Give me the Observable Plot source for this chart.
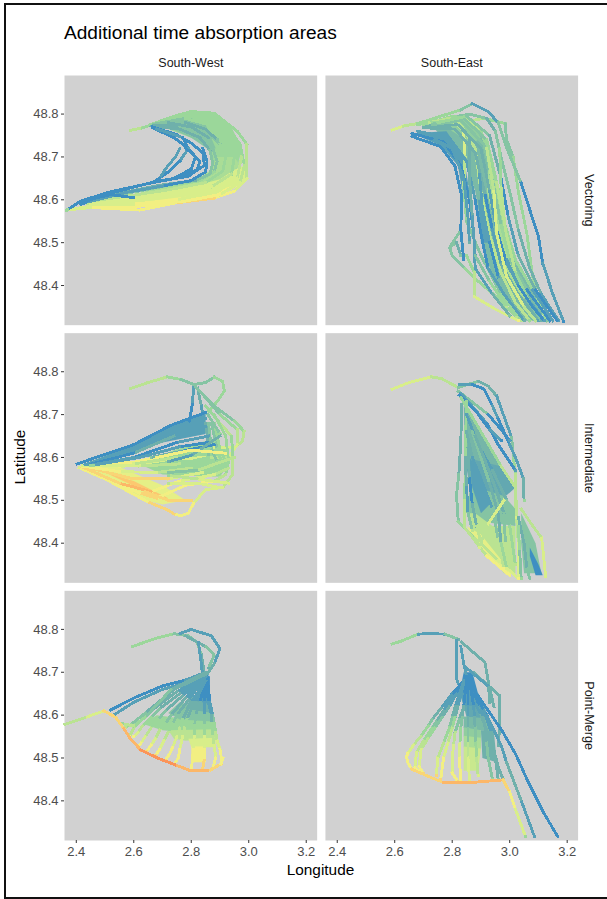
<!DOCTYPE html>
<html><head><meta charset="utf-8">
<script src="https://cdn.jsdelivr.net/npm/d3@7"></script>
<script src="https://cdn.jsdelivr.net/npm/@observablehq/plot@0.6"></script>
<style>
html,body{margin:0;padding:0;background:#fff}
#wrap{position:relative;width:607px;height:899px;overflow:hidden;font-family:"Liberation Sans",Arial,sans-serif}
#frame{position:absolute;left:4px;top:3px;right:-3px;bottom:0;border:solid #111;border-width:2px 0 2px 2px;box-sizing:border-box;pointer-events:none}
#title{position:absolute;left:64px;top:21px;font-size:19.1px;color:#000;line-height:24px}
#xt{position:absolute;left:220px;width:201px;text-align:center;top:861px;font-size:15.4px;color:#000}
#yt{position:absolute;left:20px;top:457px;font-size:15.4px;color:#000;transform:translate(-50%,-50%) rotate(-90deg);white-space:nowrap}
svg{display:block}
</style></head><body>
<div id="wrap">
<div id="chart"></div>
<div id="title">Additional time absorption areas</div>
<div id="xt">Longitude</div>
<div id="yt">Latitude</div>
<div id="frame"></div>
</div>
<script>
const areas = ["South-West","South-East"];
const modes = ["Vectoring","Intermediate","Point-Merge"];
const lonTicks = [2.4,2.6,2.8,3.0,3.2];
const latTicks = [48.4,48.5,48.6,48.7,48.8];

// dense regions: [class, [lon,lat], [lon,lat], ...]
const swVectoringBands = [
[4,[2.68,48.778],[2.80,48.803],[2.88,48.80],[2.94,48.77],[2.975,48.72],[2.96,48.67],[2.88,48.67],[2.865,48.72],[2.80,48.745],[2.70,48.77]],
[3,[2.70,48.775],[2.80,48.79],[2.85,48.775],[2.885,48.72],[2.865,48.715],[2.80,48.745]],
[4.5,[2.95,48.70],[2.97,48.68],[2.90,48.645],[2.82,48.632],[2.70,48.622],[2.58,48.606],[2.70,48.634],[2.82,48.648],[2.87,48.67],[2.89,48.70]],
[6,[2.985,48.68],[2.99,48.65],[2.94,48.622],[2.85,48.607],[2.74,48.60],[2.60,48.59],[2.43,48.585],[2.55,48.604],[2.70,48.623],[2.82,48.634],[2.90,48.648],[2.95,48.67]],
[7,[2.97,48.635],[2.90,48.608],[2.78,48.597],[2.62,48.584],[2.48,48.583],[2.60,48.592],[2.74,48.604],[2.85,48.612],[2.93,48.63]]
];
const seVectoringBands = [
[2.5,[2.72,48.78],[2.85,48.79],[2.91,48.74],[2.94,48.66],[2.96,48.58],[3.0,48.50],[3.05,48.42],[3.12,48.34],[3.1,48.318],[3.04,48.318],[2.96,48.39],[2.92,48.46],[2.90,48.54],[2.88,48.62],[2.84,48.70],[2.76,48.75]],
[3.5,[2.76,48.785],[2.86,48.79],[2.90,48.745],[2.87,48.73],[2.80,48.76]],
[1,[2.66,48.755],[2.78,48.76],[2.84,48.70],[2.86,48.62],[2.84,48.60],[2.82,48.68],[2.76,48.726]],
[4.5,[2.93,48.72],[2.96,48.62],[2.99,48.52],[3.02,48.43],[3.06,48.37],[3.03,48.37],[2.98,48.44],[2.95,48.54],[2.92,48.62]],
[1,[2.89,48.60],[2.91,48.60],[2.93,48.50],[2.90,48.50]]
];
const swIntermediateBands = [
[1,[2.85,48.705],[2.73,48.675],[2.60,48.63],[2.42,48.583],[2.55,48.60],[2.70,48.635],[2.85,48.655]],
[4,[2.86,48.64],[2.92,48.62],[2.93,48.585],[2.90,48.555],[2.70,48.56],[2.62,48.585],[2.75,48.62]],
[6.5,[2.42,48.58],[2.55,48.578],[2.70,48.535],[2.78,48.50],[2.70,48.49],[2.64,48.50]],
[8.5,[2.50,48.565],[2.60,48.545],[2.72,48.505],[2.68,48.505],[2.58,48.54]]
];
const seIntermediateBands = [
[2.3,[2.84,48.72],[2.90,48.66],[2.97,48.58],[2.96,48.575],[2.845,48.60]],
[1.5,[2.845,48.60],[2.965,48.58],[3.02,48.53],[2.97,48.50],[2.86,48.53]],
[3,[2.86,48.535],[2.98,48.51],[3.02,48.48],[3.02,48.44],[2.90,48.45],[2.855,48.47]],
[5,[2.85,48.47],[2.88,48.47],[2.94,48.44],[3.02,48.44],[3.02,48.33],[2.98,48.33],[2.90,48.40],[2.87,48.42]],
[6.5,[2.85,48.44],[2.90,48.42],[2.96,48.37],[3.01,48.33],[2.99,48.325],[2.93,48.365],[2.88,48.405]],
[1,[2.86,48.60],[2.90,48.56],[2.93,48.49],[2.90,48.47],[2.87,48.53]],
[3,[3.04,48.47],[3.09,48.40],[3.11,48.33],[3.05,48.33],[3.04,48.40]],
[0,[3.07,48.39],[3.10,48.35],[3.115,48.325],[3.09,48.325],[3.07,48.37]]
];
const swPointMergeBands = [
[4,[2.68,48.60],[2.76,48.593],[2.875,48.587],[2.88,48.565],[2.77,48.56],[2.70,48.565],[2.63,48.58]],
[3,[2.76,48.63],[2.875,48.607],[2.875,48.585],[2.76,48.59],[2.72,48.605]],
[2,[2.80,48.645],[2.87,48.625],[2.875,48.605],[2.78,48.615]],
[1,[2.825,48.665],[2.865,48.645],[2.87,48.625],[2.81,48.635]],
[0,[2.84,48.70],[2.865,48.69],[2.865,48.64],[2.835,48.645]],
[5,[2.72,48.565],[2.88,48.567],[2.885,48.545],[2.78,48.54],[2.74,48.545]],
[6,[2.79,48.545],[2.885,48.547],[2.885,48.525],[2.80,48.525]],
[7,[2.80,48.527],[2.85,48.527],[2.85,48.49],[2.80,48.49]]
];
const sePointMergeBands = [
[0,[2.84,48.70],[2.87,48.70],[2.89,48.65],[2.825,48.65]],
[1,[2.825,48.652],[2.89,48.652],[2.91,48.62],[2.84,48.62]],
[1.5,[2.84,48.622],[2.91,48.622],[2.93,48.59],[2.85,48.595]],
[2.5,[2.84,48.597],[2.93,48.592],[2.945,48.56],[2.84,48.57]],
[3.5,[2.84,48.572],[2.90,48.565],[2.90,48.545],[2.84,48.55]],
[4.5,[2.84,48.552],[2.90,48.547],[2.90,48.52],[2.84,48.525]],
[5.5,[2.84,48.527],[2.90,48.522],[2.89,48.47],[2.84,48.47]],
[2,[2.90,48.565],[2.945,48.562],[2.955,48.49],[2.905,48.50]]
];

// each track: [longitude, latitude, share-of-time class 0 (blue) to 10 (orange)]
const swVectoring = [
[[2.589,48.762,5],[2.63,48.768,4],[2.665,48.776,4]],
[[2.66,48.776,4],[2.74,48.795,4],[2.80,48.806,4],[2.88,48.802,4],[2.96,48.76,4],[2.993,48.73,5],[2.993,48.65,6],[2.95,48.62,7],[2.88,48.604,8],[2.74,48.592,7],[2.62,48.576,7],[2.45,48.582,6],[2.365,48.576,4]],
[[2.67,48.778,4],[2.76,48.797,4],[2.84,48.80,4],[2.92,48.775,4],[2.97,48.73,4],[2.985,48.68,5],[2.97,48.64,6],[2.90,48.612,7],[2.78,48.597,7],[2.62,48.585,7],[2.45,48.585,6],[2.37,48.577,4]],
[[2.67,48.778,4],[2.77,48.795,4],[2.86,48.79,4],[2.94,48.755,4],[2.975,48.70,5],[2.96,48.65,6],[2.89,48.618,6],[2.75,48.60,7],[2.60,48.59,6],[2.44,48.588,6]],
[[2.68,48.778,3],[2.78,48.79,4],[2.86,48.775,4],[2.92,48.74,4],[2.95,48.70,4],[2.94,48.66,5],[2.87,48.63,6],[2.73,48.612,6],[2.58,48.6,6],[2.44,48.592,5]],
[[2.67,48.776,3],[2.77,48.783,3],[2.84,48.765,3],[2.90,48.73,4],[2.92,48.70,4],[2.91,48.667,4],[2.85,48.64,5],[2.71,48.622,5],[2.57,48.608,5],[2.43,48.595,5]],
[[2.67,48.774,2],[2.76,48.772,3],[2.83,48.75,3],[2.875,48.72,3],[2.89,48.69,3],[2.88,48.665,4],[2.83,48.645,4],[2.70,48.631,3],[2.55,48.612,3],[2.43,48.597,3]],
[[2.66,48.772,2],[2.76,48.765,2],[2.83,48.745,2],[2.865,48.715,3],[2.875,48.685,3],[2.865,48.66,3],[2.815,48.645,2],[2.69,48.634,2],[2.55,48.615,2],[2.42,48.594,3]],
[[2.665,48.770,0],[2.75,48.752,0],[2.805,48.73,0],[2.842,48.708,0],[2.845,48.68,0],[2.79,48.655,0],[2.68,48.642,0],[2.52,48.619,0],[2.415,48.597,0],[2.37,48.577,4]],
[[2.665,48.768,0],[2.74,48.745,0],[2.79,48.72,0],[2.815,48.70,0],[2.80,48.672,0],[2.74,48.65,0],[2.66,48.64,0],[2.50,48.612,0],[2.42,48.59,0]],
[[2.68,48.765,1],[2.77,48.745,0],[2.79,48.72,1],[2.76,48.69,0],[2.72,48.665,0],[2.67,48.642,0]],
[[2.78,48.72,0],[2.80,48.71,0],[2.83,48.69,0],[2.82,48.67,0],[2.78,48.66,0],[2.73,48.648,0]],
[[2.76,48.72,1],[2.745,48.70,1],[2.71,48.672,1],[2.69,48.65,0]],
[[2.84,48.72,0],[2.855,48.69,0],[2.85,48.665,0],[2.80,48.645,0],[2.70,48.632,1],[2.58,48.618,1],[2.44,48.595,1]],
[[2.60,48.605,0],[2.52,48.612,0],[2.46,48.603,0],[2.415,48.59,0]],
[[2.78,48.78,2],[2.85,48.765,2],[2.89,48.74,3]],
[[2.72,48.78,2],[2.80,48.77,2],[2.86,48.745,2]]
];

const seVectoring = [
[[2.591,48.763,6],[2.63,48.772,5],[2.68,48.778,4]],
[[2.87,48.785,5],[2.91,48.79,4],[2.984,48.778,3],[2.989,48.74,3],[3.012,48.70,4],[3.03,48.62,4],[3.06,48.52,4],[3.08,48.42,4],[3.10,48.36,4],[3.13,48.318,3]],
[[2.68,48.778,4],[2.76,48.795,4],[2.83,48.81,3],[2.87,48.824,1],[2.925,48.806,1],[2.96,48.78,3],[2.99,48.72,3],[3.04,48.639,0],[3.10,48.514,0],[3.115,48.452,1],[3.15,48.38,1],[3.187,48.317,0]],
[[2.68,48.775,4],[2.78,48.79,3],[2.86,48.80,3],[2.92,48.79,2],[2.95,48.76,3],[2.97,48.70,3],[3.0,48.62,3],[3.03,48.53,2],[3.07,48.44,2],[3.11,48.38,1],[3.17,48.318,1]],
[[2.70,48.775,4],[2.80,48.795,4],[2.85,48.79,5],[2.90,48.76,4],[2.94,48.68,4],[2.97,48.60,4],[2.98,48.52,4],[3.02,48.43,5],[3.06,48.37,4],[3.12,48.318,3]],
[[2.72,48.78,5],[2.79,48.79,5],[2.83,48.775,5],[2.88,48.72,5],[2.90,48.62,5],[2.93,48.52,5],[2.97,48.43,5],[3.02,48.36,5],[3.07,48.318,4]],
[[2.73,48.78,4],[2.80,48.785,5],[2.84,48.76,6],[2.845,48.70,5],[2.84,48.63,4],[2.85,48.55,3],[2.90,48.47,3],[2.97,48.38,4],[3.04,48.318,5]],
[[2.792,48.487,3],[2.80,48.47,3],[2.845,48.44,4],[2.885,48.413,4],[2.96,48.37,4],[3.025,48.325,5]],
[[2.827,48.526,3],[2.792,48.49,3],[2.815,48.50,2],[2.83,48.47,3]],
[[2.85,48.47,4],[2.877,48.43,5],[2.877,48.374,6],[2.95,48.345,6],[3.03,48.318,7]],
[[2.66,48.748,0],[2.76,48.724,0],[2.81,48.678,0],[2.833,48.608,0],[2.83,48.53,0],[2.84,48.46,0]],
[[2.66,48.755,0],[2.77,48.735,0],[2.83,48.68,0],[2.86,48.60,0],[2.875,48.52,1],[2.88,48.44,1],[2.94,48.38,2],[3.0,48.33,3]],
[[2.68,48.76,1],[2.79,48.745,1],[2.85,48.69,1],[2.88,48.60,0],[2.90,48.52,0],[2.925,48.44,1],[2.98,48.38,1],[3.05,48.318,2]],
[[2.70,48.768,2],[2.81,48.765,2],[2.88,48.71,2],[2.915,48.61,0],[2.94,48.53,1],[2.97,48.45,2],[3.03,48.38,2],[3.10,48.318,1]],
[[2.71,48.772,2],[2.82,48.775,2],[2.90,48.72,2],[2.93,48.62,1],[2.955,48.53,0],[2.99,48.45,1],[3.05,48.38,1],[3.12,48.318,0]],
[[2.73,48.775,3],[2.83,48.785,3],[2.91,48.73,3],[2.945,48.63,3],[2.97,48.54,4],[3.0,48.46,3],[3.06,48.39,0],[3.14,48.318,0]],
[[2.74,48.778,3],[2.84,48.79,3],[2.92,48.74,4],[2.955,48.64,5],[2.98,48.55,4],[3.02,48.46,4],[3.08,48.39,1],[3.15,48.318,1]],
[[2.75,48.78,4],[2.85,48.795,3],[2.93,48.75,2],[2.97,48.65,0],[2.995,48.56,1],[3.03,48.47,2],[3.09,48.39,0],[3.165,48.318,0]],
[[2.86,48.74,2],[2.86,48.65,2],[2.87,48.56,1],[2.88,48.47,3],[2.93,48.41,4],[2.99,48.35,5]],
[[2.92,48.72,5],[2.945,48.62,6],[2.955,48.52,6],[2.99,48.42,6],[3.05,48.35,5],[3.09,48.318,5]],
[[2.965,48.72,4],[2.97,48.63,5],[2.985,48.53,5],[3.02,48.43,4],[3.07,48.36,3],[3.11,48.318,2]],
[[2.74,48.74,1],[2.80,48.72,1],[2.84,48.65,1],[2.855,48.56,1],[2.86,48.50,2]],
[[2.895,48.66,1],[2.905,48.58,1],[2.93,48.50,0],[2.96,48.42,1]],
[[2.99,48.46,1],[3.03,48.40,0],[3.08,48.35,0],[3.12,48.318,1]]
];

const swIntermediate = [
[[2.589,48.761,5],[2.65,48.775,5],[2.717,48.788,4],[2.764,48.782,3],[2.81,48.77,3]],
[[2.81,48.77,3],[2.85,48.775,3],[2.88,48.787,4],[2.909,48.778,4],[2.915,48.755,4],[2.891,48.731,4],[2.862,48.708,4]],
[[2.808,48.763,1],[2.804,48.724,0],[2.793,48.685,0]],
[[2.822,48.762,2],[2.835,48.72,1],[2.842,48.695,1]],
[[2.815,48.765,3],[2.88,48.72,3],[2.95,48.685,4],[2.984,48.661,5],[2.978,48.638,5],[2.949,48.622,6],[2.85,48.625,7],[2.717,48.605,7],[2.60,48.589,7],[2.42,48.58,6]],
[[2.83,48.755,3],[2.90,48.70,4],[2.96,48.665,5],[2.96,48.63,6],[2.93,48.60,5],[2.85,48.60,6],[2.72,48.595,6],[2.55,48.578,7]],
[[2.85,48.72,4],[2.90,48.68,5],[2.94,48.65,4],[2.945,48.60,5],[2.944,48.56,5],[2.91,48.53,6],[2.85,48.525,6],[2.808,48.493,7],[2.79,48.47,7],[2.764,48.464,7],[2.74,48.468,8],[2.717,48.478,8],[2.647,48.497,7],[2.50,48.55,7],[2.41,48.576,6]],
[[2.88,48.70,4],[2.92,48.65,4],[2.93,48.59,4],[2.92,48.56,5],[2.88,48.545,7],[2.78,48.535,7],[2.68,48.505,8],[2.62,48.517,7],[2.42,48.575,7]],
[[2.88,48.68,4],[2.90,48.62,4],[2.93,48.575,5],[2.88,48.56,6],[2.76,48.545,7],[2.66,48.52,9],[2.55,48.54,8],[2.42,48.578,7]],
[[2.87,48.68,3],[2.89,48.62,4],[2.91,48.58,4],[2.84,48.565,6],[2.72,48.55,8],[2.60,48.55,8],[2.42,48.58,7]],
[[2.86,48.68,3],[2.87,48.62,3],[2.89,48.59,4],[2.80,48.575,5],[2.68,48.565,6],[2.55,48.567,7],[2.42,48.58,7]],
[[2.85,48.68,2],[2.86,48.63,3],[2.86,48.60,4],[2.76,48.585,5],[2.62,48.58,6],[2.42,48.581,6]],
[[2.858,48.70,3],[2.90,48.655,4],[2.85,48.61,4],[2.75,48.60,5],[2.60,48.585,6]],
[[2.85,48.705,0],[2.729,48.675,0],[2.60,48.63,0],[2.403,48.585,0]],
[[2.85,48.69,1],[2.73,48.66,1],[2.60,48.62,1],[2.43,48.583,1]],
[[2.85,48.672,1],[2.74,48.65,2],[2.60,48.61,0],[2.44,48.583,1]],
[[2.86,48.65,1],[2.75,48.635,0],[2.60,48.60,1],[2.45,48.582,4]],
[[2.86,48.635,0],[2.76,48.625,1],[2.62,48.60,1],[2.46,48.582,4]],
[[2.88,48.63,0],[2.77,48.615,2],[2.66,48.60,3]],
[[2.90,48.65,2],[2.80,48.605,1],[2.72,48.59,2]],
[[2.95,48.60,5],[2.82,48.57,3],[2.72,48.565,3]],
[[2.93,48.54,6],[2.82,48.55,5],[2.72,48.558,4]],
[[2.90,48.53,6],[2.82,48.54,6],[2.72,48.54,5]],
[[2.80,48.50,8],[2.72,48.50,8],[2.64,48.52,8]],
[[2.92,48.61,7],[2.80,48.617,7],[2.68,48.60,7]]
];

const seIntermediate = [
[[2.591,48.759,6],[2.65,48.775,6],[2.728,48.788,5],[2.763,48.784,5],[2.821,48.763,4]],
[[2.821,48.763,3],[2.891,48.778,2],[2.926,48.766,2],[2.955,48.743,1],[2.978,48.70,1],[3.007,48.646,3],[3.013,48.60,4],[3.02,48.56,5],[3.02,48.50,5],[3.03,48.40,6],[3.03,48.318,6]],
[[2.825,48.77,1],[2.87,48.77,0],[2.91,48.76,0],[2.94,48.72,1],[2.96,48.69,0],[3.0,48.63,1],[3.02,48.60,1],[3.047,48.552,2],[3.05,48.50,4]],
[[2.82,48.755,3],[2.926,48.70,0],[2.97,48.665,0],[3.0,48.64,1]],
[[2.83,48.75,1],[2.92,48.68,0],[2.96,48.63,0],[3.02,48.57,1]],
[[2.825,48.745,0],[2.88,48.71,0],[2.93,48.665,1],[2.97,48.64,0]],
[[2.833,48.724,2],[2.83,48.638,2],[2.823,48.56,3],[2.815,48.513,3],[2.821,48.451,4],[2.879,48.412,5],[2.96,48.36,6],[3.03,48.318,7]],
[[2.85,48.73,4],[2.845,48.60,4],[2.844,48.50,5],[2.844,48.436,5],[2.92,48.37,7],[3.0,48.325,7]],
[[2.83,48.74,4],[2.90,48.66,4],[2.97,48.58,5],[3.02,48.53,5],[3.025,48.46,6]],
[[2.85,48.70,1],[2.89,48.63,1],[2.94,48.57,2],[2.99,48.50,3],[3.0,48.44,4],[3.02,48.35,5]],
[[2.85,48.66,2],[2.87,48.60,1],[2.90,48.55,1],[2.94,48.48,3],[2.96,48.41,5],[2.98,48.34,7]],
[[2.855,48.62,2],[2.86,48.55,0],[2.87,48.49,2],[2.885,48.44,5],[2.90,48.40,6]],
[[2.845,48.60,2],[2.85,48.53,1],[2.855,48.47,3],[2.87,48.43,5]],
[[2.87,48.66,3],[2.90,48.60,3],[2.93,48.54,2],[2.96,48.47,2],[2.97,48.40,4],[2.99,48.34,6]],
[[2.88,48.65,2],[2.91,48.60,2],[2.95,48.53,2],[2.98,48.47,3],[2.985,48.40,5]],
[[2.98,48.50,6],[2.92,48.44,5],[2.895,48.39,6]],
[[3.04,48.48,5],[3.07,48.45,5],[3.111,48.412,6],[3.118,48.37,6],[3.125,48.322,6]],
[[3.03,48.46,2],[3.05,48.40,2],[3.06,48.34,3],[3.07,48.318,3]],
[[3.03,48.44,4],[3.035,48.38,3],[3.04,48.318,4]]
];

const swPointMerge = [
[[2.595,48.76,4],[2.68,48.78,4],[2.74,48.79,3],[2.79,48.785,3],[2.82,48.77,3],[2.835,48.74,2],[2.845,48.70,0]],
[[2.76,48.79,1],[2.80,48.80,1],[2.87,48.785,1],[2.90,48.755,1],[2.88,48.72,2],[2.85,48.69,1]],
[[2.78,48.785,2],[2.85,48.76,3],[2.88,48.74,3],[2.86,48.71,2]],
[[2.825,48.77,1],[2.835,48.72,1],[2.84,48.69,0]],
[[2.52,48.612,0],[2.60,48.64,0],[2.70,48.668,0],[2.78,48.682,1],[2.85,48.70,2]],
[[2.53,48.60,1],[2.60,48.63,1],[2.70,48.66,1],[2.78,48.675,2],[2.85,48.70,2]],
[[2.855,48.69,0],[2.86,48.66,0],[2.865,48.63,1],[2.875,48.60,3],[2.88,48.58,4],[2.885,48.56,5],[2.89,48.54,6],[2.90,48.52,7],[2.905,48.50,7]],
[[2.85,48.69,0],[2.855,48.66,0],[2.86,48.63,1],[2.87,48.60,2],[2.872,48.58,4],[2.875,48.55,5],[2.88,48.53,6],[2.885,48.50,7],[2.875,48.475,8]],
[[2.85,48.68,0],[2.845,48.63,1],[2.845,48.60,3],[2.845,48.575,4],[2.845,48.55,6],[2.845,48.52,7],[2.845,48.495,8],[2.84,48.475,8]],
[[2.85,48.68,0],[2.83,48.63,2],[2.815,48.60,3],[2.812,48.575,4],[2.81,48.55,6],[2.807,48.52,7],[2.805,48.50,7],[2.80,48.472,8]],
[[2.85,48.68,1],[2.81,48.63,2],[2.785,48.59,4],[2.777,48.57,5],[2.77,48.55,6],[2.76,48.52,7],[2.755,48.50,7],[2.74,48.485,8]],
[[2.85,48.68,1],[2.80,48.63,2],[2.77,48.59,4],[2.76,48.57,5],[2.75,48.55,6],[2.735,48.525,7],[2.725,48.51,7],[2.71,48.495,8]],
[[2.85,48.69,1],[2.79,48.635,2],[2.75,48.60,3],[2.735,48.58,4],[2.72,48.56,5],[2.705,48.54,6],[2.69,48.52,7],[2.675,48.505,8]],
[[2.85,48.69,1],[2.78,48.64,2],[2.73,48.60,3],[2.71,48.58,4],[2.69,48.565,5],[2.675,48.545,6],[2.66,48.53,7],[2.645,48.515,8]],
[[2.85,48.69,1],[2.77,48.645,2],[2.71,48.61,3],[2.685,48.59,4],[2.66,48.57,5],[2.64,48.55,6],[2.625,48.535,7],[2.615,48.525,8]],
[[2.85,48.69,1],[2.76,48.65,2],[2.69,48.615,3],[2.66,48.595,4],[2.63,48.575,5],[2.615,48.56,6],[2.60,48.55,7]],
[[2.85,48.69,1],[2.75,48.655,2],[2.66,48.61,3],[2.63,48.59,4],[2.60,48.57,5],[2.585,48.55,7]],
[[2.85,48.695,2],[2.74,48.66,2],[2.64,48.605,3],[2.59,48.578,4],[2.57,48.572,5]],
[[2.82,48.69,2],[2.73,48.66,3],[2.64,48.595,4],[2.60,48.575,5],[2.56,48.58,4]],
[[2.36,48.578,5],[2.438,48.596,6],[2.496,48.61,8],[2.537,48.595,8],[2.566,48.568,9],[2.589,48.544,9],[2.624,48.519,10],[2.682,48.50,10],[2.752,48.482,9],[2.798,48.47,9],[2.868,48.472,8],[2.903,48.486,7],[2.91,48.50,7]]
];

const sePointMerge = [
[[2.591,48.766,4],[2.62,48.772,4],[2.682,48.789,1],[2.72,48.79,1],[2.775,48.789,3],[2.821,48.777,2]],
[[2.815,48.775,1],[2.815,48.73,1],[2.815,48.684,1],[2.83,48.66,1]],
[[2.83,48.76,1],[2.84,48.72,1],[2.85,48.69,0]],
[[2.833,48.77,2],[2.914,48.723,2],[2.926,48.677,2],[2.93,48.63,2]],
[[2.873,48.70,2],[2.966,48.645,2],[2.966,48.575,2],[2.96,48.53,2]],
[[2.85,48.71,1],[2.93,48.665,2],[2.945,48.62,2]],
[[2.86,48.67,0],[2.89,48.645,0],[2.972,48.565,0],[3.02,48.51,0],[3.065,48.443,0],[3.12,48.37,0],[3.167,48.317,0]],
[[2.85,48.67,0],[2.92,48.60,1],[2.97,48.53,1],[2.989,48.49,2],[3.042,48.397,1],[3.086,48.317,1]],
[[2.85,48.67,1],[2.90,48.60,2],[2.94,48.53,2],[2.96,48.48,2],[2.978,48.449,4]],
[[2.84,48.68,0],[2.80,48.65,1],[2.76,48.615,2],[2.73,48.59,3],[2.717,48.575,4],[2.69,48.55,5],[2.665,48.53,6],[2.645,48.51,7],[2.641,48.50,7]],
[[2.84,48.68,0],[2.80,48.645,1],[2.77,48.61,2],[2.745,48.585,3],[2.73,48.57,4],[2.70,48.54,5],[2.676,48.513,6],[2.67,48.478,7],[2.69,48.465,8]],
[[2.84,48.68,0],[2.815,48.65,1],[2.79,48.62,2],[2.765,48.595,3],[2.74,48.57,4],[2.715,48.545,5],[2.692,48.52,6],[2.685,48.48,7],[2.70,48.463,8]],
[[2.84,48.68,1],[2.825,48.65,1],[2.81,48.62,2],[2.80,48.595,3],[2.79,48.57,4],[2.77,48.535,5],[2.75,48.50,6],[2.745,48.46,8]],
[[2.845,48.68,1],[2.83,48.65,1],[2.82,48.62,2],[2.81,48.595,4],[2.80,48.57,5],[2.785,48.535,6],[2.77,48.50,7],[2.76,48.45,8]],
[[2.85,48.68,0],[2.84,48.62,2],[2.825,48.59,3],[2.81,48.56,5],[2.805,48.53,6],[2.80,48.50,6],[2.80,48.465,7],[2.82,48.445,8]],
[[2.85,48.68,0],[2.84,48.62,2],[2.835,48.595,3],[2.83,48.57,4],[2.827,48.535,6],[2.825,48.50,7],[2.83,48.445,7]],
[[2.855,48.68,0],[2.855,48.62,1],[2.855,48.595,2],[2.855,48.57,3],[2.855,48.535,5],[2.855,48.50,6],[2.86,48.45,6]],
[[2.86,48.68,0],[2.875,48.62,1],[2.877,48.595,2],[2.88,48.57,3],[2.882,48.535,4],[2.885,48.50,5],[2.89,48.46,6]],
[[2.87,48.67,0],[2.90,48.62,1],[2.908,48.595,2],[2.915,48.57,2],[2.92,48.535,3],[2.925,48.50,3],[2.94,48.45,4]],
[[2.87,48.67,0],[2.91,48.61,1],[2.935,48.56,2],[2.95,48.50,2],[2.96,48.45,3]],
[[2.641,48.505,7],[2.645,48.49,7],[2.659,48.474,8],[2.717,48.457,8],[2.769,48.443,9],[2.873,48.443,9],[2.977,48.449,8],[3.0,48.42,7],[3.02,48.38,6],[3.055,48.317,4]]
];

const panels = [
  ["South-West","Vectoring",swVectoring,swVectoringBands],
  ["South-East","Vectoring",seVectoring,seVectoringBands],
  ["South-West","Intermediate",swIntermediate,swIntermediateBands],
  ["South-East","Intermediate",seIntermediate,seIntermediateBands],
  ["South-West","Point-Merge",swPointMerge,swPointMergeBands],
  ["South-East","Point-Merge",sePointMerge,sePointMergeBands]
];
const rows = panels.flatMap(([area,mode,list],p) =>
  list.flatMap((t,i) => t.map(([lon,lat,v]) => ({area,mode,track:p+"-"+i,lon,lat,v}))));
const bandRows = panels.flatMap(([area,mode,,bands],p) =>
  bands.flatMap(([v,...pts],i) => pts.map(([lon,lat]) => ({area,mode,band:p+"-"+i,lon,lat,v}))));

const colorDomain = [0,2,4,6,7,8.5,10];
const colorRange = ["#3e8fc2","#6fb0ab","#9bd79a","#d8ee8a","#f2ef82","#fcc870","#fb9458"];

const chart = Plot.plot({
  width:607, height:899,
  marginLeft:64, marginRight:29.4, marginTop:75, marginBottom:59,
  style:{fontFamily:'"Liberation Sans",Arial,sans-serif',background:"transparent"},
  x:{domain:[2.359,3.238],label:null},
  y:{domain:[48.3075,48.890],label:null},
  fx:{domain:areas,paddingInner:8.3/260.9,paddingOuter:0,round:false,label:null},
  fy:{domain:modes,paddingInner:8/258,paddingOuter:0,round:false,label:null},
  color:{type:"linear",domain:colorDomain,range:colorRange,interpolate:"rgb"},
  marks:[
    Plot.frame({fill:"#d1d1d1",stroke:null}),
    Plot.line(bandRows,{x:"lon",y:"lat",z:"band",fill:"v",stroke:"none",fx:"area",fy:"mode",curve:"linear"}),
    Plot.line(rows,{x:"lon",y:"lat",z:"track",stroke:"v",fx:"area",fy:"mode",
      strokeWidth:2.9,curve:"linear",strokeLinejoin:"miter",strokeLinecap:"square",shapeRendering:"crispEdges"}),
    Plot.axisX({ticks:lonTicks,tickFormat:d3.format(".1f"),tickSize:3,tickPadding:3,fontSize:13,color:"#4d4d4d",stroke:"#333",anchor:"bottom",label:null}),
    Plot.axisY({ticks:latTicks,tickFormat:d3.format(".1f"),tickSize:3,tickPadding:3,fontSize:13,color:"#4d4d4d",stroke:"#333",anchor:"left",label:null}),
    Plot.axisFx({anchor:"top",tickSize:0,tickPadding:9,fontSize:12.5,color:"#1a1a1a",label:null}),
    Plot.axisFy({anchor:"right",tickSize:0,tickPadding:16,fontSize:12.6,color:"#1a1a1a",tickRotate:90,label:null})
  ]
});
document.getElementById("chart").appendChild(chart);
</script>
</body></html>
